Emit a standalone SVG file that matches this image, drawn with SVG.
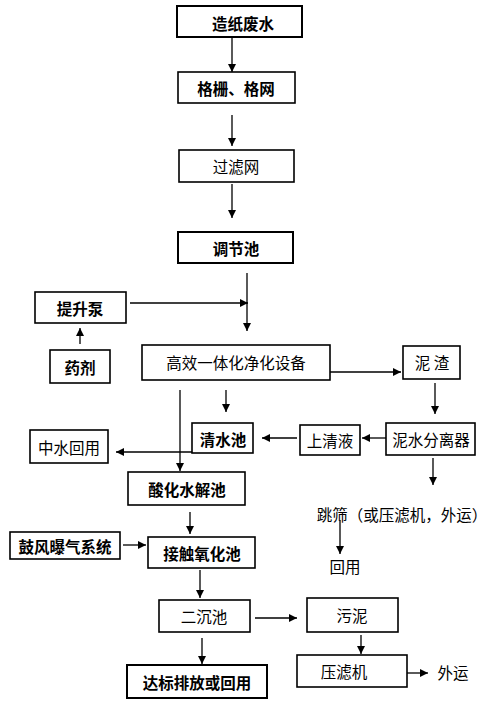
<svg xmlns="http://www.w3.org/2000/svg" width="494" height="709" viewBox="0 0 494 709">
<defs>
<marker id="ah" viewBox="0 0 10 10" refX="10" refY="5" markerWidth="8" markerHeight="8" markerUnits="userSpaceOnUse" orient="auto">
<path d="M0,0 L10,5 L0,10 Z" fill="#000"/>
</marker>
<style>
rect{fill:#fff;stroke:#000;stroke-width:1.6}
text{font-family:"Noto Sans CJK SC","Noto Sans CJK JP",sans-serif;font-size:15.5px;fill:#000;text-anchor:middle;dominant-baseline:central}
.b{font-weight:bold}
#connectors line{stroke:#000;stroke-width:1.3;marker-end:url(#ah)}
#connectors line.n{marker-end:none}
</style>
</defs>
<rect x="0" y="0" width="494" height="709" style="fill:#fff;stroke:none"/>
<g id="connectors">
<line x1="232" y1="37" x2="232" y2="72"/>
<line x1="232" y1="115" x2="232" y2="146"/>
<line x1="232" y1="184" x2="232" y2="218"/>
<line x1="247" y1="273" x2="247" y2="331"/>
<line x1="130" y1="303" x2="248" y2="303"/>
<line x1="80" y1="344" x2="80" y2="328"/>
<line x1="330" y1="372" x2="401" y2="372"/>
<line x1="435" y1="383" x2="435" y2="414"/>
<line x1="386" y1="438" x2="362" y2="438"/>
<line x1="297" y1="438" x2="262" y2="438"/>
<line x1="226" y1="390" x2="226" y2="412"/>
<line x1="192" y1="452" x2="116" y2="452"/>
<line x1="180" y1="390" x2="180" y2="471"/>
<line x1="433" y1="458" x2="433" y2="485"/>
<line x1="190" y1="512" x2="190" y2="534"/>
<line x1="123" y1="545" x2="146" y2="545"/>
<line x1="340" y1="520" x2="340" y2="554"/>
<line x1="200" y1="570" x2="200" y2="598"/>
<line x1="255" y1="618" x2="297" y2="618"/>
<line x1="202" y1="638" x2="202" y2="664"/>
<line x1="361" y1="635" x2="361" y2="654"/>
<line x1="404" y1="673" x2="428" y2="673"/>
</g>
<g id="n1"><rect x="177" y="6" width="125" height="31" style="stroke-width:2"/><text class="b" x="243" y="23">造纸废水</text></g>
<g id="n2"><rect x="178" y="72" width="117" height="31"/><text class="b" x="236" y="88">格栅、格网</text></g>
<g id="n3"><rect x="179" y="150" width="115" height="32"/><text x="236" y="166">过滤网</text></g>
<g id="n4"><rect x="178" y="232" width="115" height="31" style="stroke-width:2"/><text class="b" x="236" y="248">调节池</text></g>
<g id="n5"><rect x="35" y="292" width="91" height="31"/><text class="b" x="80" y="308">提升泵</text></g>
<g id="n6"><rect x="50" y="350" width="60" height="33"/><text class="b" x="80" y="367">药剂</text></g>
<g id="n7"><rect x="142" y="345" width="188" height="35"/><text x="236" y="362">高效一体化净化设备</text></g>
<g id="n8"><rect x="403" y="346" width="57" height="33"/><text x="432" y="362">泥 渣</text></g>
<g id="n9"><rect x="386" y="423" width="89" height="32"/><text x="431" y="439">泥水分离器</text></g>
<g id="n10"><rect x="300" y="425" width="60" height="30"/><text x="330" y="440">上清液</text></g>
<g id="n11"><rect x="192" y="423" width="61" height="30"/><text class="b" x="223" y="439">清水池</text></g>
<g id="n12"><rect x="30" y="430" width="78" height="33"/><text x="69" y="447">中水回用</text></g>
<g id="n13"><rect x="128" y="472" width="117" height="33"/><text class="b" x="187" y="489">酸化水解池</text></g>
<g id="n14"><text x="402" y="514">跳筛（或压滤机，外运）</text></g>
<g id="n15"><rect x="10" y="532" width="110" height="27"/><text class="b" x="65" y="546">鼓风曝气系统</text></g>
<g id="n16"><rect x="148" y="537" width="107" height="31"/><text class="b" x="202" y="553">接触氧化池</text></g>
<g id="n17"><text x="345" y="566">回用</text></g>
<g id="n18"><rect x="159" y="600" width="91" height="32"/><text x="204" y="616">二沉池</text></g>
<g id="n19"><rect x="307" y="598" width="91" height="34"/><text x="352" y="615">污泥</text></g>
<g id="n20"><rect x="297" y="655" width="110" height="32"/><text x="344" y="671">压滤机</text></g>
<g id="n21"><text x="453" y="672">外运</text></g>
<g id="n22"><rect x="127" y="665" width="140" height="33" style="stroke-width:2"/><text class="b" x="197" y="682">达标排放或回用</text></g>
</svg>
